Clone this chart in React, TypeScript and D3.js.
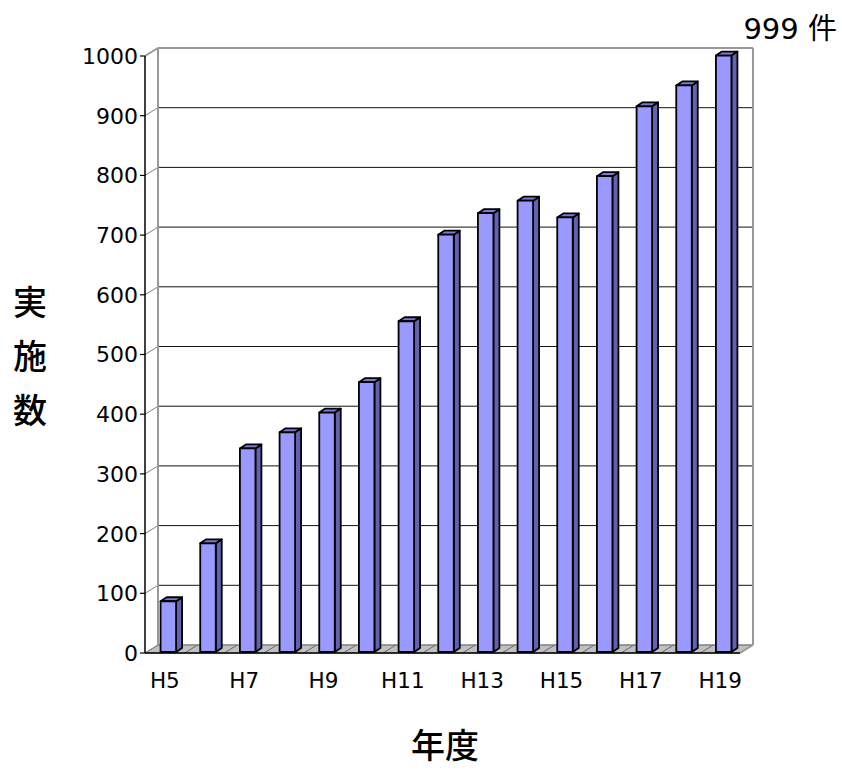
import React from "react";
import * as d3 from "d3";

const categories = ["H5","H6","H7","H8","H9","H10","H11","H12","H13","H14","H15","H16","H17","H18","H19"];
const values = [85, 182, 341, 368, 401, 452, 554, 699, 735, 756, 728, 797, 914, 949, 999];
const yTicks = [0,100,200,300,400,500,600,700,800,900,1000];
const xTickLabels = ["H5","H7","H9","H11","H13","H15","H17","H19"];
const yTitle = ["実","施","数"];
const xTitle = "年度";
const note = "999 件";

const W = 842, H = 771;
const X0 = 145, X1 = 740;
const DX = 13, DY = -8;
const BDX = 3.5, BDY = -1;
const BW = 15.5, SDX = 6, SDY = -4;
const FONT = "'DejaVu Sans', 'Noto Sans CJK JP', sans-serif";
const CJK = "'Noto Sans CJK JP', sans-serif";

export default function App() {
  const x = d3.scaleBand<string>().domain(categories).range([X0, X1]);
  const y = d3.scaleLinear().domain([0, 1000]).range([653, 56]);
  const y0 = y(0);
  const yTop = y(1000);
  const step = x.step();

  return (
    <svg width={W} height={H} style={{ position: "absolute", left: 0, top: 0, background: "#fff" }}>
      <polygon
        points={`${X0},${y0} ${X1},${y0} ${X1 + DX},${y0 + DY} ${X0 + DX},${y0 + DY}`}
        fill="#c0c0c0"
        stroke="#808080"
        strokeWidth={1}
      />
      {categories.map((c, i) => {
        const xb = (x(c) as number);
        if (i === 0) return null;
        return <line key={"fd" + i} x1={xb} y1={y0} x2={xb + DX} y2={y0 + DY} stroke="#666" strokeWidth={1} />;
      })}
      {yTicks.map((t) => (
        <line key={"g" + t} x1={X0 + DX} x2={X1 + DX} y1={y(t) + DY} y2={y(t) + DY}
          stroke={t === 0 ? "#808080" : "#111"} strokeWidth={1} />
      ))}
      {yTicks.map((t) => (
        <line key={"s" + t} x1={X0} x2={X0 + DX} y1={y(t)} y2={y(t) + DY} stroke="#808080" strokeWidth={1} />
      ))}
      <line x1={X0 + DX} x2={X0 + DX} y1={yTop + DY} y2={y0 + DY} stroke="#999" strokeWidth={2} />
      <line x1={X0 + DX} x2={X1 + DX} y1={yTop + DY} y2={yTop + DY} stroke="#999" strokeWidth={2} />
      <line x1={X1 + DX} x2={X1 + DX} y1={yTop + DY} y2={y0 + DY} stroke="#999" strokeWidth={2} />
      <line x1={X1} x2={X1 + DX} y1={y0} y2={y0 + DY} stroke="#999" strokeWidth={1.5} />
      <line x1={X0} x2={X0 + DX} y1={yTop} y2={yTop + DY} stroke="#999" strokeWidth={2} />
      {categories.map((c, i) => {
        const v = values[i];
        const bx = (x(c) as number) + step / 2 - BW / 2 + BDX;
        const bt = y(v) + BDY;
        const bb = y0 + BDY;
        return (
          <g key={"b" + c} stroke="#000" strokeWidth={1.8} strokeLinejoin="round">
            <polygon points={`${bx + BW},${bt} ${bx + BW + SDX},${bt + SDY} ${bx + BW + SDX},${bb + SDY} ${bx + BW},${bb}`} fill="#6262b0" />
            <polygon points={`${bx},${bt} ${bx + SDX},${bt + SDY} ${bx + BW + SDX},${bt + SDY} ${bx + BW},${bt}`} fill="#7a7ad0" />
            <rect x={bx} y={bt} width={BW} height={bb - bt} fill="#9999ff" />
          </g>
        );
      })}
      <line x1={X0} x2={X0} y1={yTop} y2={y0} stroke="#000" strokeWidth={1.5} />
      <line x1={X0} x2={X1} y1={y0} y2={y0} stroke="#000" strokeWidth={1.5} />
      {yTicks.map((t) => (
        <g key={"t" + t}>
          <line x1={X0 - 5} x2={X0} y1={y(t)} y2={y(t)} stroke="#000" strokeWidth={1.2} />
          <text x={X0 - 7} y={y(t)} dy="0.36em" textAnchor="end" fontFamily={FONT} fontSize={22} fill="#000">{t}</text>
        </g>
      ))}
      {xTickLabels.map((l) => (
        <text key={"x" + l} x={(x(l) as number) + step / 2} y={688} textAnchor="middle" fontFamily={FONT} fontSize={21.5} fill="#000">{l}</text>
      ))}
      {yTitle.map((ch, i) => (
        <text key={"yt" + i} x={30} y={303 + i * 54} dy="0.36em" textAnchor="middle" fontFamily={CJK} fontSize={34} fontWeight={500} fill="#000">{ch}</text>
      ))}
      <text x={445} y={746} dy="0.36em" textAnchor="middle" fontFamily={CJK} fontSize={34} fontWeight={500} fill="#000">{xTitle}</text>
      <text x={837} y={29} dy="0.36em" textAnchor="end" fontFamily={FONT} fontSize={29} fill="#000">{note}</text>
    </svg>
  );
}
